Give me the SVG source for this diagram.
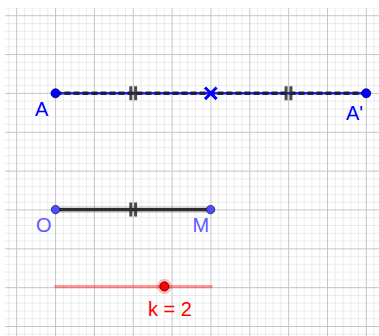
<svg xmlns="http://www.w3.org/2000/svg" width="379" height="336" viewBox="0 0 379 336">
<style>
.minor{stroke:#ebebeb;stroke-width:1;fill:none}
.major{stroke:#c6c6c6;stroke-width:1;fill:none}
.lbl{font-family:"Liberation Sans",Arial,sans-serif;font-size:20px}
.tick{stroke:#2b2b2b;stroke-opacity:0.85;stroke-width:3;fill:none}
.ptA{fill:#0000ff;stroke:#00007a;stroke-width:0.8}
.ptO{fill:#4d4dff;stroke:#1a1a66;stroke-width:0.8}
</style>
<defs>
<clipPath id="gclip"><rect x="5" y="8" width="374" height="328"/></clipPath>
</defs>
<rect width="379" height="336" fill="#ffffff"/>
<g id="grid" clip-path="url(#gclip)">
<path class="minor" d="M8.93 0V336M24.47 0V336M32.24 0V336M40.01 0V336M47.78 0V336M63.32 0V336M71.09 0V336M78.86 0V336M86.63 0V336M102.17 0V336M109.94 0V336M117.71 0V336M125.48 0V336M141.02 0V336M148.79 0V336M156.56 0V336M164.33 0V336M179.87 0V336M187.64 0V336M195.41 0V336M203.18 0V336M218.72 0V336M226.49 0V336M234.26 0V336M242.03 0V336M257.57 0V336M265.34 0V336M273.11 0V336M280.88 0V336M296.42 0V336M304.19 0V336M311.96 0V336M319.73 0V336M335.27 0V336M343.04 0V336M350.81 0V336M358.58 0V336M374.12 0V336"/>
<path class="minor" d="M0 7.93H379M0 23.47H379M0 31.24H379M0 39.01H379M0 46.78H379M0 62.32H379M0 70.09H379M0 77.86H379M0 85.63H379M0 101.17H379M0 108.94H379M0 116.71H379M0 124.48H379M0 140.02H379M0 147.79H379M0 155.56H379M0 163.33H379M0 178.87H379M0 186.64H379M0 194.41H379M0 202.18H379M0 217.72H379M0 225.49H379M0 233.26H379M0 241.03H379M0 256.57H379M0 264.34H379M0 272.11H379M0 279.88H379M0 295.42H379M0 303.19H379M0 310.96H379M0 318.73H379M0 334.27H379"/>
<path class="major" d="M16.7 0V336M55.55 0V336M94.4 0V336M133.25 0V336M172.1 0V336M210.95 0V336M249.8 0V336M288.65 0V336M327.5 0V336M366.35 0V336"/>
<path class="major" d="M0 15.7H379M0 54.55H379M0 93.4H379M0 132.25H379M0 171.1H379M0 209.95H379M0 248.8H379M0 287.65H379M0 326.5H379"/>
</g>
<g id="connectors">
<g id="segAA">
<line x1="55.5" y1="93.3" x2="366.2" y2="93.3" stroke="#2020ff" stroke-width="2.6"/>
<line x1="55.5" y1="93.3" x2="366.2" y2="93.3" stroke="#1a1a2e" stroke-opacity="0.9" stroke-width="3.4" stroke-dasharray="6,3"/>
<path class="tick" d="M130.8 86.3V100.3M135.6 86.3V100.3"/>
<path class="tick" d="M286.1 86.3V100.3M290.9 86.3V100.3"/>
</g>
<g id="segOM">
<line x1="55.5" y1="209.6" x2="210.6" y2="209.6" stroke="#000000" stroke-opacity="0.15" stroke-width="7"/>
<line x1="55.5" y1="209.6" x2="210.6" y2="209.6" stroke="#2e2e2e" stroke-width="3.2"/>
<path class="tick" d="M130.8 202.6V216.6M135.6 202.6V216.6"/>
</g>
</g>
<g id="A">
<circle class="ptA" cx="55.5" cy="93.3" r="4.5"/>
<text class="lbl" x="35" y="116" fill="#0000ff">A</text>
</g>
<g id="A-prime">
<circle class="ptA" cx="366.2" cy="93.3" r="4.5"/>
<text class="lbl" x="346" y="119.5" fill="#0000ff">A'</text>
</g>
<g id="mid">
<path d="M205 87.5L216.6 99.1M216.6 87.5L205 99.1" stroke="#0000ff" stroke-width="3" fill="none"/>
</g>
<g id="O">
<circle class="ptO" cx="55.5" cy="209.6" r="4.2"/>
<text class="lbl" x="36" y="231.5" fill="#5c5cff">O</text>
</g>
<g id="M">
<circle class="ptO" cx="210.6" cy="209.6" r="4.2"/>
<text class="lbl" x="192.5" y="232" fill="#5c5cff">M</text>
</g>
<g id="slider-k">
<line x1="54.5" y1="286.6" x2="212.5" y2="286.6" stroke="#ff0000" stroke-opacity="0.4" stroke-width="3.4"/>
<circle cx="164.4" cy="286.4" r="7.5" fill="#ff0000" fill-opacity="0.25"/>
<circle cx="164.4" cy="286.4" r="4.5" fill="#ff0000" stroke="#5a0000" stroke-width="1"/>
<text class="lbl" x="148" y="315.5" fill="#ff0000">k = 2</text>
</g>
</svg>
